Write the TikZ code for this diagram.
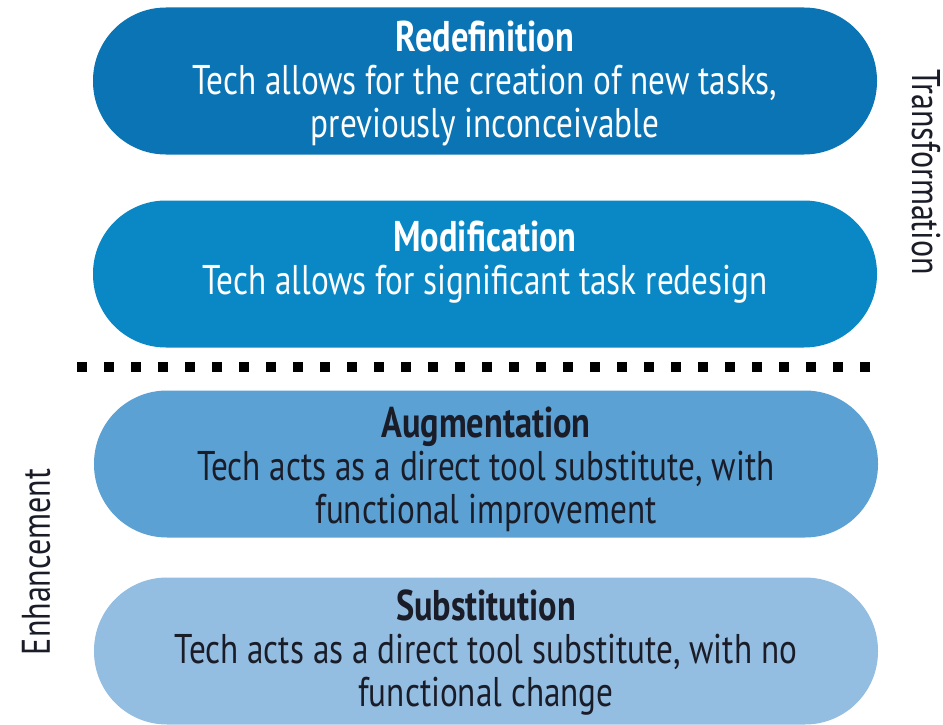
\documentclass[tikz,border=0pt]{standalone}
\usepackage{fontspec}
\setmainfont{PT Sans}[FakeStretch=0.80]
\definecolor{cRed}{HTML}{0A74B4}
\definecolor{cMod}{HTML}{0A88C6}
\definecolor{cAug}{HTML}{5BA1D3}
\definecolor{cSub}{HTML}{93BDE1}
\definecolor{darktext}{HTML}{1A1C28}
\newcommand{\ttl}[1]{{\fontsize{43}{43}\selectfont\bfseries #1}}
\begin{document}
\begin{tikzpicture}[x=1pt,y=-1pt,
  pill/.style={rectangle, rounded corners=73pt, minimum width=784pt, minimum height=147pt,
    inner sep=0pt, draw=none},
  pilltext/.style={align=center, inner sep=0pt, font=\fontsize{41.5}{43}\selectfont},
  sidelabel/.style={font=\fontsize{40}{44}\selectfont, text=darktext}]
\useasboundingbox (0,0) rectangle (943,725);
\node[pill, fill=cRed] (redef) at (485,81) {};
\node[pilltext, text=white] (redefT) at (485,83)
  {\ttl{Redefinition}\\Tech allows for the creation of new tasks,\\previously inconceivable};
\node[pill, fill=cMod] (modif) at (485,274) {};
\node[pilltext, text=white] (modifT) at (485,262)
  {\ttl{Modification}\\Tech allows for significant task redesign};
\node[pill, fill=cAug] (augm) at (486,464) {};
\node[pilltext, text=darktext] (augmT) at (486,469)
  {\ttl{Augmentation}\\Tech acts as a direct tool substitute, with\\functional improvement};
\node[pill, fill=cSub] (subst) at (486,651) {};
\node[pilltext, text=darktext] (substT) at (486,653)
  {\ttl{Substitution}\\Tech acts as a direct tool substitute, with no\\functional change};
\coordinate (dl) at (77,367);
\coordinate (dr) at (880,367);
\draw[line width=10pt, dash pattern=on 10pt off 17pt, black] (dl) -- (dr);
\node[sidelabel, rotate=-90] (trans) at (926,172) {Transformation};
\node[sidelabel, rotate=90] (enh) at (36,562) {Enhancement};
\end{tikzpicture}
\end{document}
